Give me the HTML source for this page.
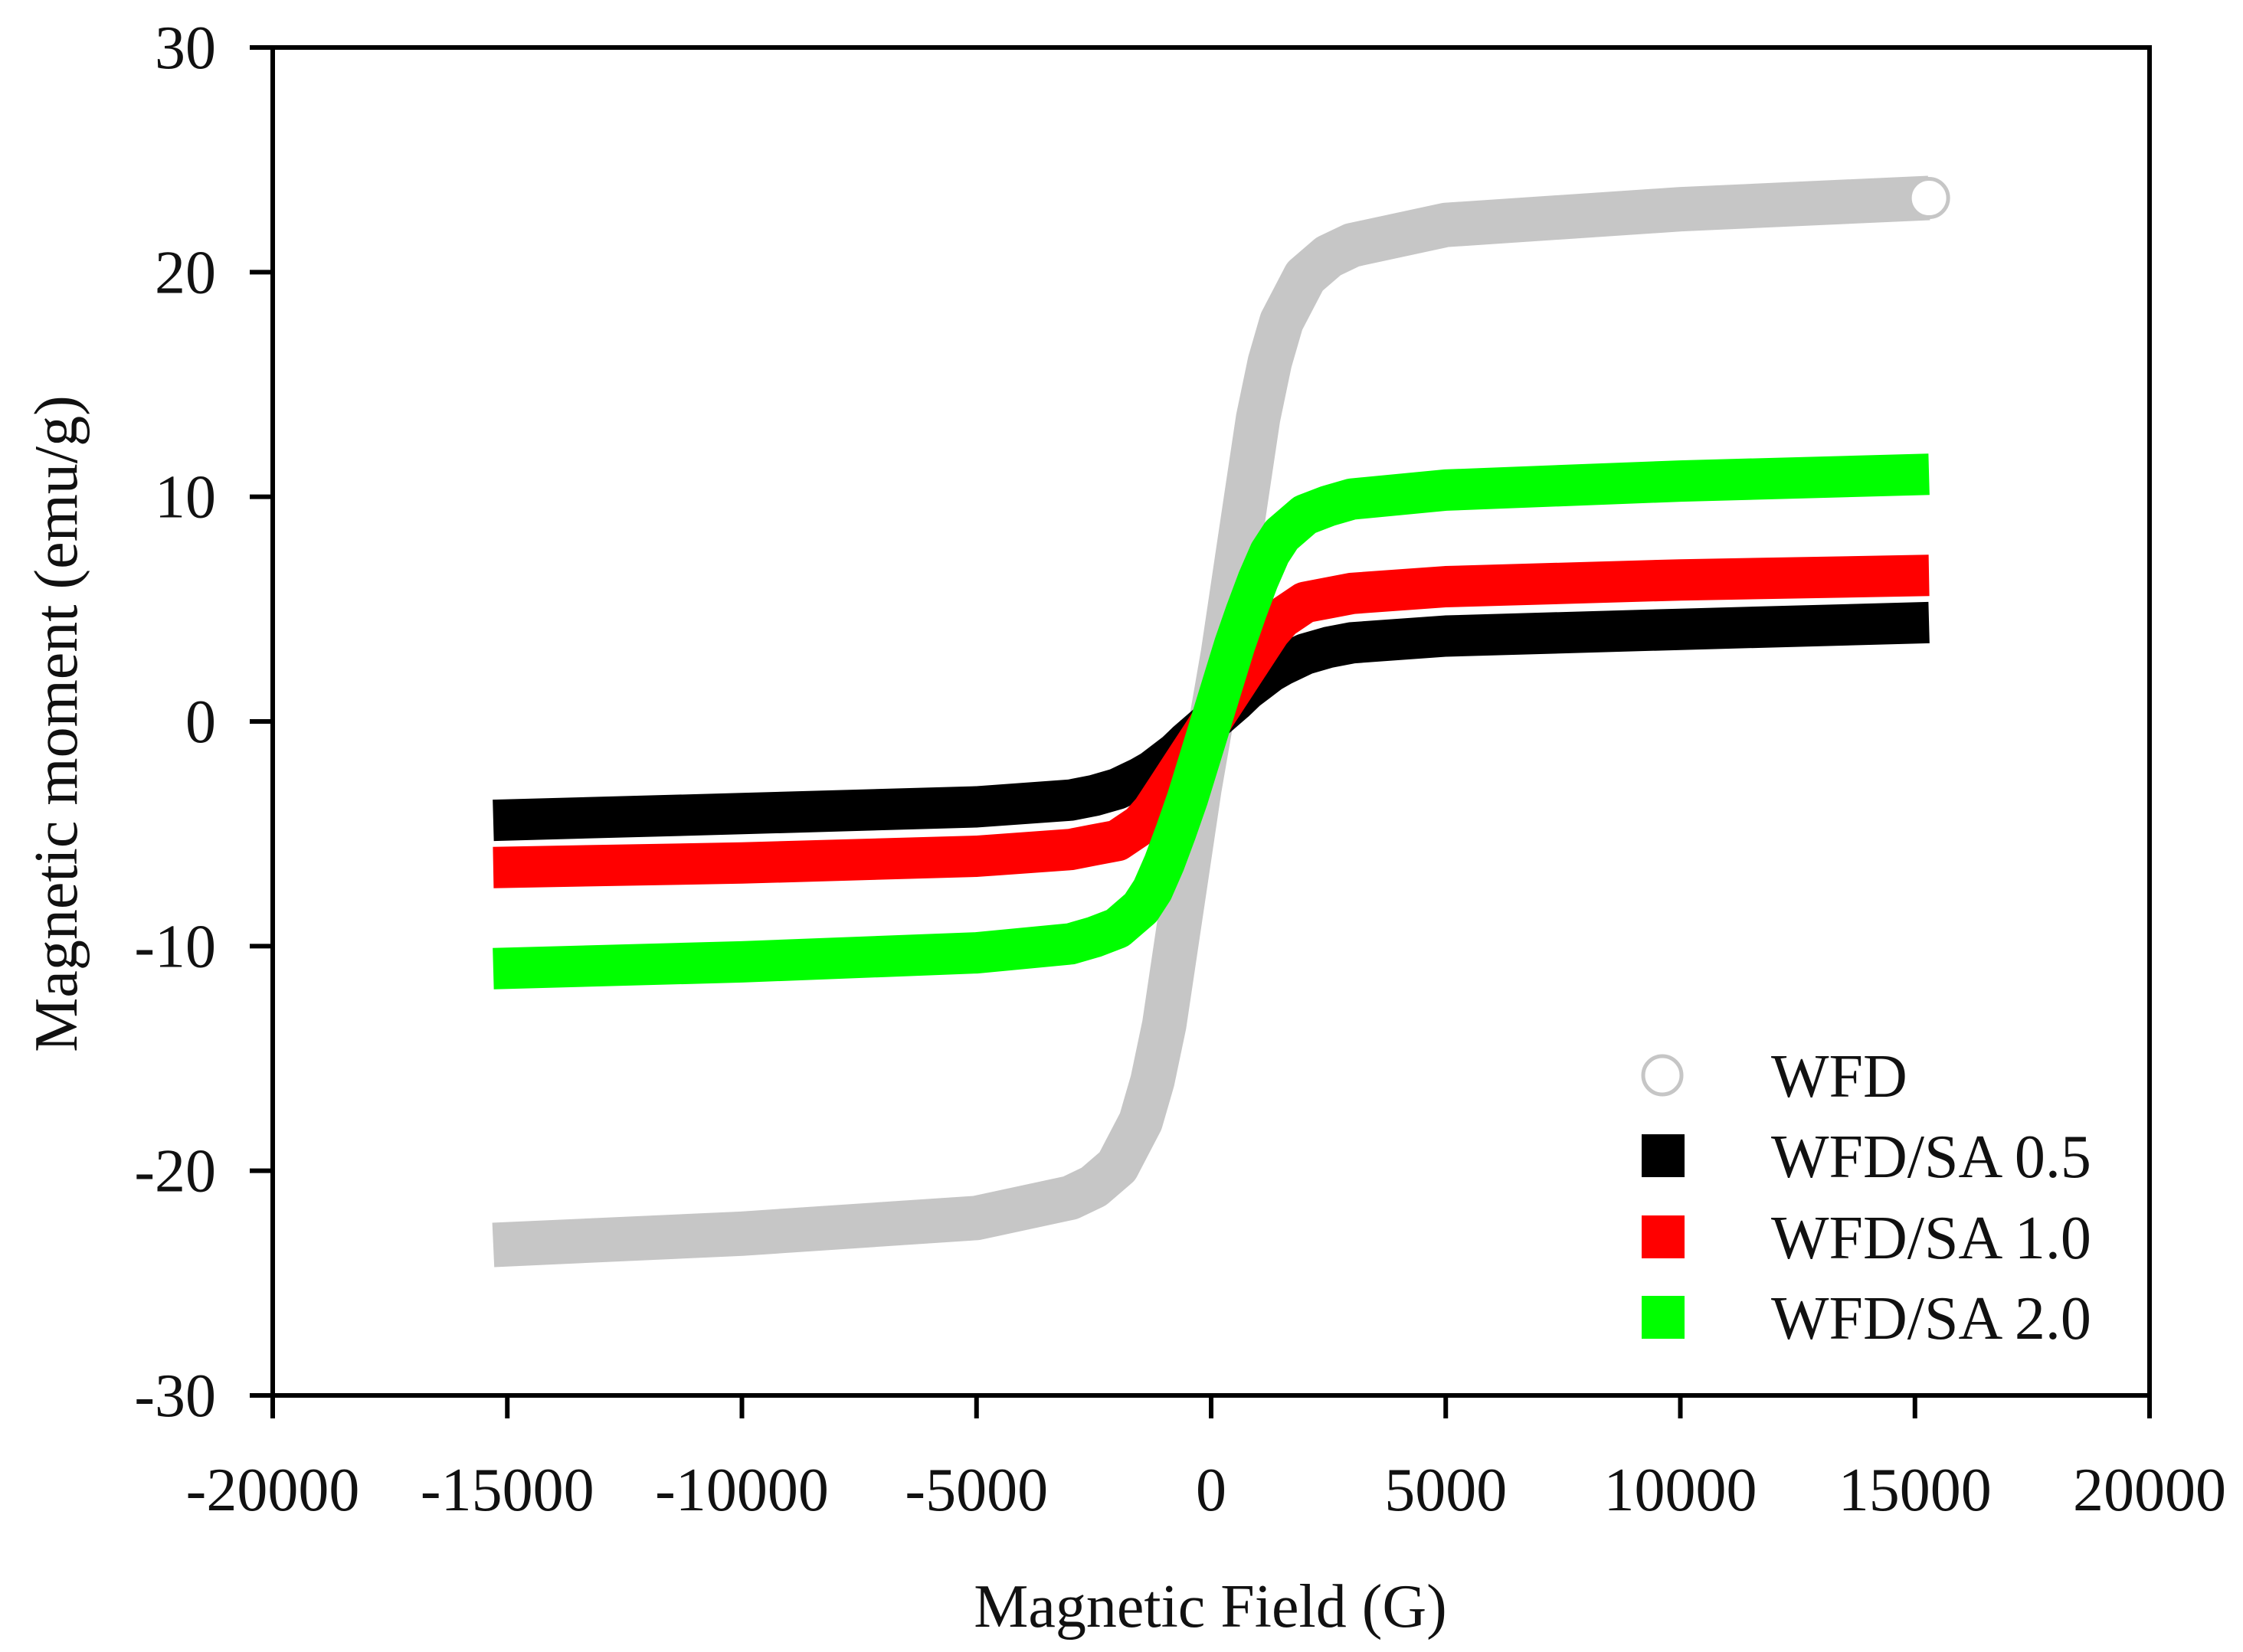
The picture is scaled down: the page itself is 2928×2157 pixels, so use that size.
<!DOCTYPE html>
<html><head><meta charset="utf-8"><style>
html,body{margin:0;padding:0;background:#fff;}
svg{display:block;font-family:"Liberation Serif",serif;}
</style></head><body>
<svg id="chart" width="2928" height="2157" viewBox="0 0 2928 2157" xmlns="http://www.w3.org/2000/svg">
<g id="series"></g>
<g id="axes"></g>
<g id="legend"></g>
</svg>
<script>
const xTicks = [-20000,-15000,-10000,-5000,0,5000,10000,15000,20000];
const yTicks = [-30,-20,-10,0,10,20,30];
const fieldH = [-15300,-10000,-5000,-3000,-2500,-2000,-1500,-1250,-1000,-750,-500,-250,0,250,500,750,1000,1250,1500,2000,2500,3000,5000,10000,15300];
const mWFD   = [-23.3,-22.8,-22.1,-21.2,-20.7,-19.8,-17.8,-16,-13.5,-10,-6.5,-3,0,3,6.5,10,13.5,16,17.8,19.8,20.7,21.2,22.1,22.8,23.3];
const mSA05  = [-4.4,-4.1,-3.8,-3.5,-3.3,-3.0,-2.5,-2.2,-1.8,-1.4,-0.9,-0.45,0,0.45,0.9,1.4,1.8,2.2,2.5,3.0,3.3,3.5,3.8,4.1,4.4];
const mSA10  = [-6.5,-6.3,-6.0,-5.7,-5.5,-5.3,-4.6,-4.0,-3.2,-2.4,-1.6,-0.8,0,0.8,1.6,2.4,3.2,4.0,4.6,5.3,5.5,5.7,6.0,6.3,6.5];
const mSA20  = [-11.0,-10.7,-10.3,-9.9,-9.6,-9.2,-8.3,-7.5,-6.3,-4.9,-3.4,-1.7,0,1.7,3.4,4.9,6.3,7.5,8.3,9.2,9.6,9.9,10.3,10.7,11.0];
const seriesNames = ["WFD","WFD/SA 0.5","WFD/SA 1.0","WFD/SA 2.0"];

const NS="http://www.w3.org/2000/svg";
const X0=356,X1=2806,Y0=62,Y1=1822;
function sx(v){return X0+(v+20000)/40000*(X1-X0);}
function sy(v){return Y1-(v+30)/60*(Y1-Y0);}
function mk(tag,attrs,parent){const e=document.createElementNS(NS,tag);for(const k in attrs)e.setAttribute(k,attrs[k]);parent.appendChild(e);return e;}

const sg=document.getElementById('series');
const series=[
 {vals:mWFD,color:"#c6c6c6",w:58,name:"series-wfd"},
 {vals:mSA05,color:"#000000",w:54,name:"series-wfd-sa-0-5"},
 {vals:mSA10,color:"#ff0000",w:54,name:"series-wfd-sa-1-0"},
 {vals:mSA20,color:"#00ff00",w:54,name:"series-wfd-sa-2-0"}
];
series.forEach(s=>{
  const pts=fieldH.map((h,i)=>sx(h).toFixed(1)+","+sy(s.vals[i]).toFixed(1)).join(" ");
  const p=mk('polyline',{points:pts,fill:"none",stroke:s.color,"stroke-width":s.w,"stroke-linejoin":"round","stroke-linecap":"butt"},sg);
  
  
});
const endC=mk('circle',{cx:sx(fieldH[fieldH.length-1]),cy:sy(mWFD[mWFD.length-1]),r:25,fill:"#fff",stroke:"#c6c6c6","stroke-width":5},sg);



const ax=document.getElementById('axes');
const frame=mk('rect',{x:X0,y:Y0,width:X1-X0,height:Y1-Y0,fill:"none",stroke:"#000","stroke-width":6},ax);


xTicks.forEach(t=>{
  const x=sx(t);
  const l=mk('line',{x1:x,y1:Y1,x2:x,y2:Y1+30,stroke:"#000","stroke-width":6},ax);
  
  
  const tx=mk('text',{x:x,y:1972,"font-size":80,"text-anchor":"middle",fill:"#111"},ax);
  tx.textContent=String(t);
  
  
});
yTicks.forEach(t=>{
  const y=sy(t);
  const l=mk('line',{x1:X0-30,y1:y,x2:X0,y2:y,stroke:"#000","stroke-width":6},ax);
  
  
  const tx=mk('text',{x:282,y:y+27,"font-size":80,"text-anchor":"end",fill:"#111"},ax);
  tx.textContent=String(t);
  
  
});
const xt=mk('text',{x:1580,y:2124,"font-size":80,"text-anchor":"middle",fill:"#111"},ax);
xt.textContent="Magnetic Field (G)";


const yt=mk('text',{x:0,y:0,"font-size":80,"text-anchor":"middle",fill:"#111",transform:"translate(100,945) rotate(-90)"},ax);
yt.textContent="Magnetic moment (emu/g)";



const lg=document.getElementById('legend');
const legY=[1404,1509,1615,1720];
const legColors=["#c6c6c6","#000000","#ff0000","#00ff00"];
seriesNames.forEach((n,i)=>{
  let m;
  if(i===0){m=mk('circle',{cx:2170,cy:legY[i],r:25,fill:"#fff",stroke:"#c6c6c6","stroke-width":5},lg);}
  else{m=mk('rect',{x:2143,y:legY[i]-28,width:56,height:56,fill:legColors[i]},lg);}
  
  
  const t=mk('text',{x:2312,y:legY[i]+28,"font-size":80,fill:"#111"},lg);
  t.textContent=n;
  
  
});
</script>
</body></html>
